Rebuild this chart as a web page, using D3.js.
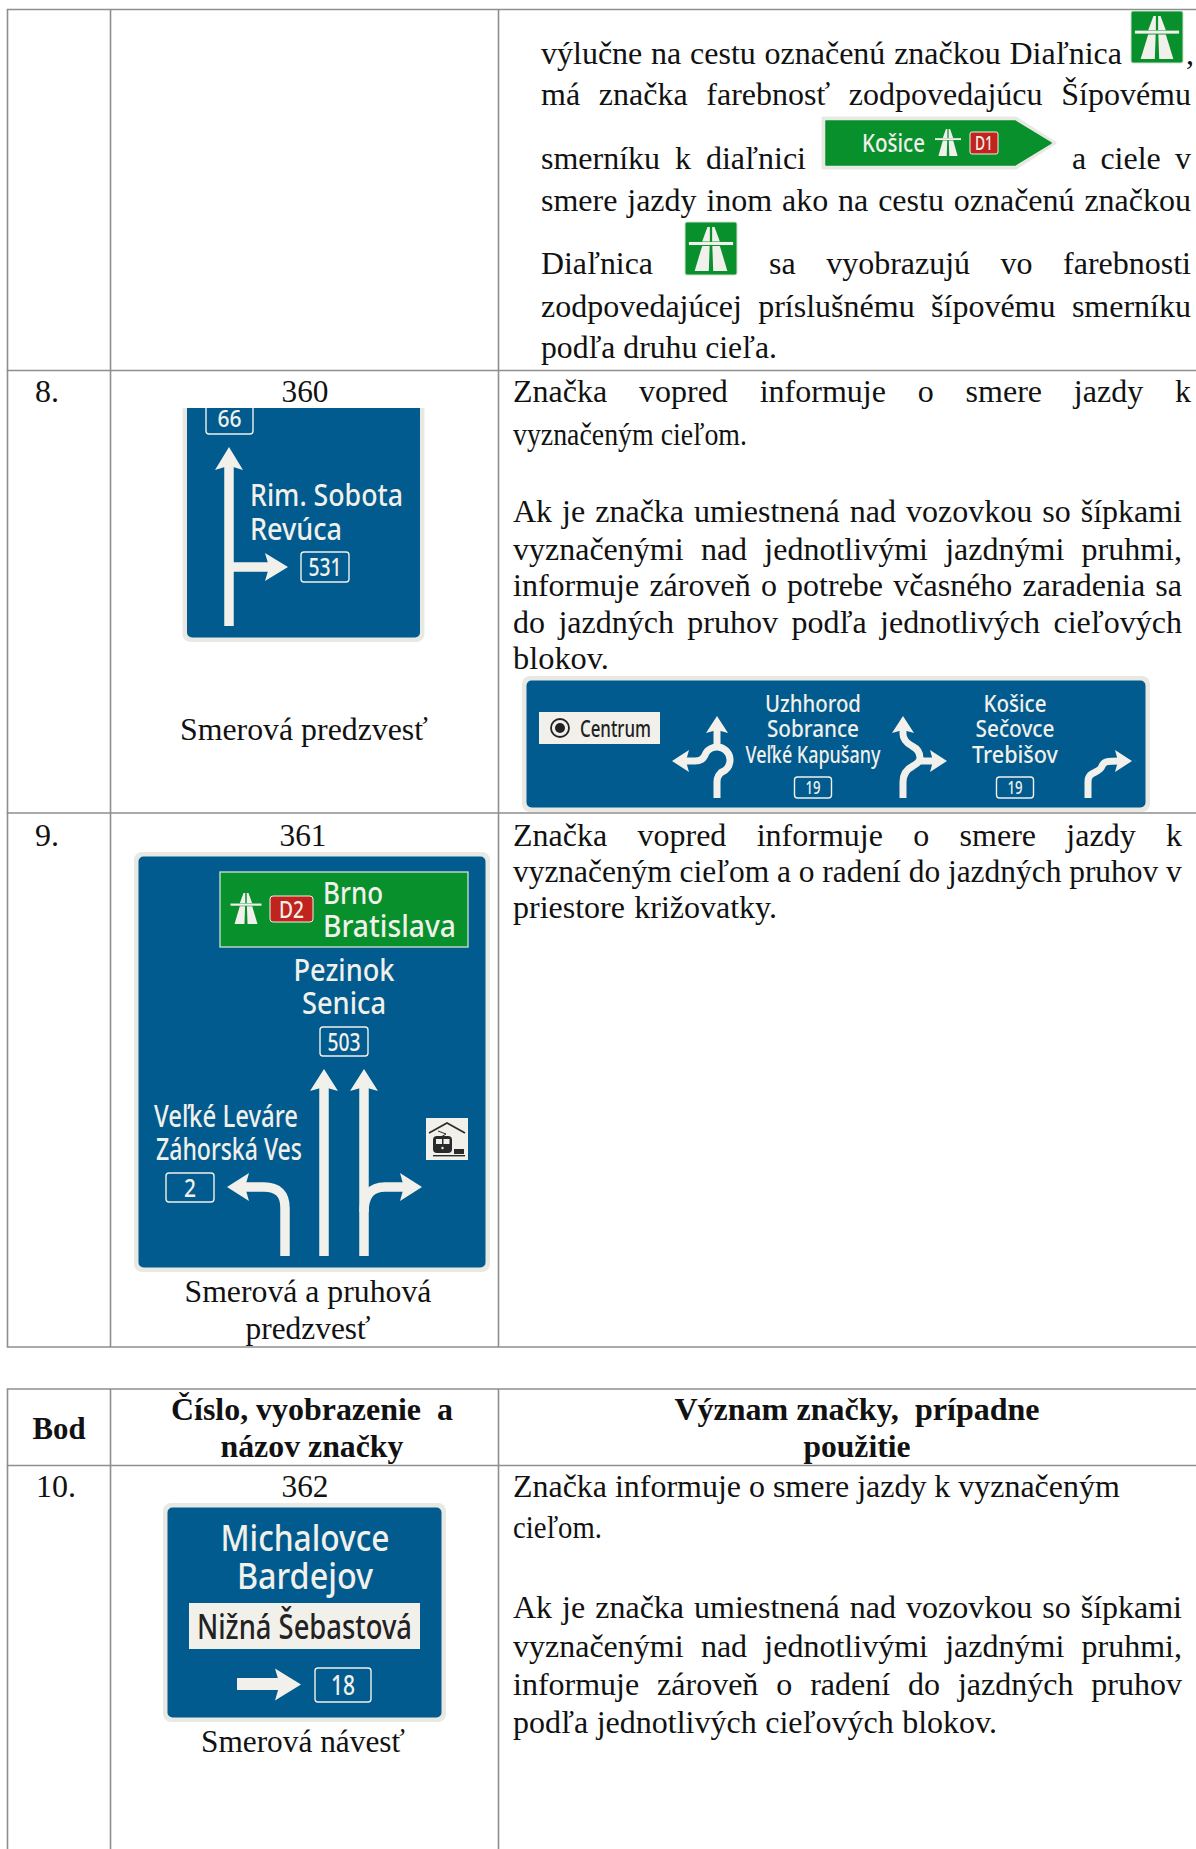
<!DOCTYPE html>
<html>
<head>
<meta charset="utf-8">
<script src="https://cdn.jsdelivr.net/npm/d3@7"></script>
<style>
html, body { margin: 0; padding: 0; background: #fff; }
svg { display: block; }
</style>
</head>
<body>
<div id="page"></div>
<script>
// text of the table
var pointLabels = ["8.", "9.", "Bod", "10."];
var signNumbers = ["360", "361", "362"];
var signNames = ["Smerová predzvesť", "Smerová a pruhová", "predzvesť", "Smerová návesť"];
var headerLabels = ["Číslo, vyobrazenie  a", "názov značky", "Význam značky,  prípadne", "použitie"];
var topLines = ["výlučne na cestu označenú značkou Diaľnica", ",",
    "má značka farebnosť zodpovedajúcu Šípovému", "smerníku k diaľnici", "a ciele v",
    "smere jazdy inom ako na cestu označenú značkou", "Diaľnica", "sa vyobrazujú vo farebnosti",
    "zodpovedajúcej príslušnému šípovému smerníku", "podľa druhu cieľa."];
var row8Lines = ["Značka vopred informuje o smere jazdy k", "vyznačeným cieľom.",
    "Ak je značka umiestnená nad vozovkou so šípkami", "vyznačenými nad jednotlivými jazdnými pruhmi,",
    "informuje zároveň o potrebe včasného zaradenia sa", "do jazdných pruhov podľa jednotlivých cieľových", "blokov."];
var row9Lines = ["Značka vopred informuje o smere jazdy k",
    "vyznačeným cieľom a o radení do jazdných pruhov v", "priestore križovatky."];
var row10Lines = ["Značka informuje o smere jazdy k vyznačeným", "cieľom.",
    "Ak je značka umiestnená nad vozovkou so šípkami", "vyznačenými nad jednotlivými jazdnými pruhmi,",
    "informuje zároveň o radení do jazdných pruhov", "podľa jednotlivých cieľových blokov."];

// rule positions of the two tables
var columnX = [7.5, 110.5, 498.5];
var table1Y = [9.5, 370.5, 813, 1347];
var table2Y = [1389, 1465.5, 1849];

var blue = "#015b8e", green = "#07902c", red = "#c1231d", paper = "#f1f0eb", rim = "#e9e9e4";
var lineColor = "#8e8e8e", ink = "#111";
var W = 1196, H = 1849;

var svg = d3.select("#page").append("svg").attr("width", W).attr("height", H)
    .attr("viewBox", "0 0 " + W + " " + H);

// document rules
var rules = svg.append("g").attr("stroke", lineColor).attr("stroke-width", 1.6);
[table1Y, table2Y].forEach(function(ys) {
    rules.selectAll(null).data(ys).join("line")
        .attr("x1", columnX[0] - 0.8).attr("x2", W).attr("y1", d => d).attr("y2", d => d)
        .filter((d, i) => i == 2 && ys === table2Y).remove();
    rules.selectAll(null).data(columnX).join("line")
        .attr("x1", d => d).attr("x2", d => d).attr("y1", ys[0]).attr("y2", ys[ys.length - 1]);
});

// serif document text, squeezed to the target width or spread by its word gaps
function docText(str, x, y, x2, opts) {
    opts = opts || {};
    var t = svg.append("text").attr("font-family", "'Liberation Serif'").attr("font-size", opts.size || 32)
        .attr("font-weight", opts.bold ? 700 : 400).attr("fill", ink)
        .attr("y", y).style("white-space", "pre").text(str);
    var len = t.node().getComputedTextLength();
    var spaces = (str.match(/ /g) || []).length;
    var sx = 1;
    if (x2 != null) {
        sx = (x2 - x) / len;
        if (spaces > 0 && sx > 1) {
            t.attr("word-spacing", (x2 - x - len) / spaces);
            sx = 1;
        }
    }
    t.attr("transform", "translate(" + x + ",0) scale(" + sx + ",1)");
    return t;
}
function centered(str, cx, y, width, opts) {
    return docText(str, cx - width / 2, y, cx + width / 2, opts);
}

// left column and captions
docText(pointLabels[0], 35, 402);
docText(pointLabels[1], 35, 846);
docText(pointLabels[3], 36, 1497);
centered(signNumbers[0], 305, 402, 47);
centered(signNumbers[1], 303, 846, 47);
centered(signNumbers[2], 305, 1497, 47);
centered(signNames[0], 304, 740, 248);
centered(signNames[1], 308, 1302, 247);
centered(signNames[2], 308, 1339, 125);
centered(signNames[3], 303, 1752, 204);
centered(pointLabels[2], 59, 1439, 53, {bold: true});
centered(headerLabels[0], 312, 1420, 282, {bold: true});
centered(headerLabels[1], 312, 1457, 183, {bold: true});
centered(headerLabels[2], 857, 1420, 365, {bold: true});
centered(headerLabels[3], 857, 1457, 107, {bold: true});

// right column text: baseline, left and right edge of every line
var topY = [63.5, 63.5, 105, 168.5, 168.5, 211, 274, 274, 317, 358];
var topX1 = [541, 1186, 541, 541, 1072, 541, 541, 769, 541, 541];
var topX2 = [1122, null, 1191, 806, 1191, 1191, 653, 1191, 1191, 777];
topLines.forEach((s, i) => docText(s, topX1[i], topY[i], topX2[i]));

var row8Y = [402, 445, 522, 560, 596, 633, 669];
var row8X2 = [1191, 747, 1182, 1182, 1182, 1182, 609];
row8Lines.forEach((s, i) => docText(s, 513, row8Y[i], row8X2[i]));

var row9Y = [846, 882, 918];
var row9X2 = [1182, 1182, 777];
row9Lines.forEach((s, i) => docText(s, 513, row9Y[i], row9X2[i]));

var row10Y = [1497, 1538, 1618, 1657, 1695, 1733];
var row10X2 = [1120, 602, 1182, 1182, 1182, 997];
row10Lines.forEach((s, i) => docText(s, 513, row10Y[i], row10X2[i]));

// sign helpers
function signPlate(g, x0, y0, x1, y1) {
    g.append("rect").attr("x", x0).attr("y", y0).attr("width", x1 - x0).attr("height", y1 - y0)
        .attr("rx", 8).attr("fill", rim);
    g.append("rect").attr("x", x0 + 4.5).attr("y", y0 + 4.5).attr("width", x1 - x0 - 9).attr("height", y1 - y0 - 9)
        .attr("rx", 5).attr("fill", blue);
}
function signText(g, str, x, y, width, size, fill, anchor) {
    var x0 = anchor == "middle" ? x - width / 2 : x;
    return g.append("text").attr("x", x0).attr("y", y + size * 0.04).attr("font-family", "'Noto Sans'")
        .attr("font-size", size).attr("font-weight", 500).attr("fill", fill || paper)
        .attr("textLength", width).attr("lengthAdjust", "spacingAndGlyphs").text(str);
}
function roadBox(g, str, x0, y0, x1, y1, size, w) {
    g.append("rect").attr("x", x0).attr("y", y0).attr("width", x1 - x0).attr("height", y1 - y0)
        .attr("rx", 3).attr("fill", "none").attr("stroke", paper).attr("stroke-width", 1.4);
    var cx = (x0 + x1) / 2;
    signText(g, str, cx, (y0 + y1) / 2 + size * 0.32, w, size, paper, "middle");
}
function stroke(g, d, w) {
    g.append("path").attr("d", d.toString()).attr("fill", "none").attr("stroke", paper)
        .attr("stroke-width", w || 9.5);
}
// arrow head, dir is the heading in degrees (0 = up)
function head(g, x, y, dir, len, half) {
    var pts = [[0, 0], [half, len], [0, len - 0.18 * len], [-half, len]];
    g.append("path").attr("d", d3.line()(pts) + "Z").attr("fill", paper)
        .attr("transform", "translate(" + x + "," + y + ") rotate(" + dir + ")");
}
function motorway(g, cx, y0, h, w, fill) {
    var lanes = [
        [[.08, 0], [.025, 0], [.025, .33], [.2, .33]],
        [[.2, .43], [.03, .43], [.05, 1], [.37, 1]]
    ];
    var sy = d3.scaleLinear().domain([0, 1]).range([y0, y0 + h]);
    var g2 = g.append("g").attr("fill", fill);
    lanes.forEach(function(l) {
        [1, -1].forEach(function(side) {
            var pts = l.map(p => [cx + side * p[0] * w, sy(p[1])]);
            g2.append("path").attr("d", d3.line()(pts) + "Z");
        });
    });
    g2.append("rect").attr("x", cx - w / 2).attr("y", sy(.34)).attr("width", w).attr("height", h * .07);
}
function greenIcon(x0, y0, x1, y1) {
    var g = svg.append("g");
    g.append("rect").attr("x", x0).attr("y", y0).attr("width", x1 - x0).attr("height", y1 - y0)
        .attr("rx", 2).attr("fill", green).attr("stroke", "#cfe0cf").attr("stroke-width", 1);
    motorway(g, (x0 + x1) / 2, y0 + 5, y1 - y0 - 9, (x1 - x0) * 0.85, paper);
}

// motorway icons inside the top text
greenIcon(1131, 11, 1183, 63);
greenIcon(685, 222, 737, 275);

// Košice arrow sign
var kos = svg.append("g");
var kosOuter = [[823, 118], [1016, 118], [1055, 143], [1016, 168], [823, 168]];
kos.append("path").attr("d", d3.line()(kosOuter) + "Z").attr("fill", rim).attr("stroke", rim)
    .attr("stroke-width", 3).attr("stroke-linejoin", "round");
var kosInner = [[826, 121], [1015, 121], [1051, 143], [1015, 165], [826, 165]];
kos.append("path").attr("d", d3.line()(kosInner) + "Z").attr("fill", green).attr("stroke", green)
    .attr("stroke-width", 1.5).attr("stroke-linejoin", "round");
signText(kos, "Košice", 862, 151, 63, 25);
motorway(kos, 948, 129, 27, 26, paper);
kos.append("rect").attr("x", 970).attr("y", 132).attr("width", 28).attr("height", 22).attr("rx", 2)
    .attr("fill", red).attr("stroke", paper).attr("stroke-width", 1);
signText(kos, "D1", 984, 149, 18, 19, paper, "middle");

// sign 360, cut off at the top by the picture frame
var s360 = svg.append("g");
s360.append("clipPath").attr("id", "clip360").append("rect").attr("x", 170).attr("y", 408).attr("width", 270).attr("height", 240);
var s360in = s360.append("g").attr("clip-path", "url(#clip360)");
signPlate(s360in, 182.5, 380, 424.5, 642);
roadBox(s360in, "66", 206, 396, 253, 434, 23, 24);
s360in.selectAll("text").attr("y", 427);
var p = d3.path(); p.moveTo(229, 626); p.lineTo(229, 465); stroke(s360, p);
p = d3.path(); p.moveTo(229, 567); p.lineTo(272, 567); stroke(s360, p);
head(s360, 229, 447, 0, 23, 14);
head(s360, 288, 567, 90, 23, 14);
signText(s360, "Rim. Sobota", 250, 505, 153, 31);
signText(s360, "Revúca", 250, 539, 92, 31);
roadBox(s360, "531", 301, 552, 349, 582, 25, 33);

// overhead sign of row 8
var s8 = svg.append("g");
signPlate(s8, 522, 676, 1150, 812);
s8.append("rect").attr("x", 539).attr("y", 712).attr("width", 121).attr("height", 32).attr("fill", paper);
s8.append("circle").attr("cx", 560).attr("cy", 728).attr("r", 9).attr("fill", "none").attr("stroke", "#222").attr("stroke-width", 1.8);
s8.append("circle").attr("cx", 560).attr("cy", 728).attr("r", 5).attr("fill", "#222");
signText(s8, "Centrum", 580, 736, 71, 24, "#222");
var s8Lines = [["Uzhhorod", "Sobrance", "Veľké Kapušany"], ["Košice", "Sečovce", "Trebišov"]];
var s8Y = [711, 736, 762], s8Cx = [813, 1015], s8W = [[96, 92, 135], [63, 79, 86]];
s8Lines.forEach(function(l, j) {
    l.forEach((s, i) => signText(s8, s, s8Cx[j], s8Y[i], s8W[j][i], 24, paper, "middle"));
    roadBox(s8, "19", s8Cx[j] - 18.5, 777, s8Cx[j] + 18.5, 798, 18, 15);
});
// roundabout arrow
p = d3.path(); p.moveTo(717, 798); p.lineTo(717, 782); p.quadraticCurveTo(717, 775, 722.5, 771.8);
p.arc(717, 760, 13, 65 * Math.PI / 180, -160 * Math.PI / 180, true);
p.quadraticCurveTo(702, 761, 695, 761); p.lineTo(685, 761);
stroke(s8, p, 7);
p = d3.path(); p.moveTo(717, 747); p.lineTo(717, 728); stroke(s8, p, 7);
head(s8, 717, 716, 0, 17, 11);
head(s8, 672, 761, -90, 17, 11);
// split arrow
p = d3.path(); p.moveTo(903, 798); p.lineTo(903, 782); p.quadraticCurveTo(903, 771, 913, 766);
p.quadraticCurveTo(920, 762, 920, 758); p.quadraticCurveTo(920, 750, 912, 746);
p.quadraticCurveTo(903, 741, 903, 734); p.lineTo(903, 728);
stroke(s8, p, 7);
p = d3.path(); p.moveTo(917, 761); p.lineTo(933, 761); stroke(s8, p, 7);
head(s8, 903, 716, 0, 17, 11);
head(s8, 947, 761, 90, 17, 11);
// right arrow
p = d3.path(); p.moveTo(1088, 798); p.lineTo(1088, 782);
p.bezierCurveTo(1088, 770, 1100, 774, 1102, 766); p.bezierCurveTo(1104, 761, 1108, 761, 1120, 761);
stroke(s8, p, 7);
head(s8, 1132, 761, 90, 17, 11);

// sign 361
var s361 = svg.append("g");
signPlate(s361, 134, 852, 490, 1272);
s361.append("rect").attr("x", 220).attr("y", 872).attr("width", 248).attr("height", 75)
    .attr("fill", green).attr("stroke", "#cfe3d0").attr("stroke-width", 1.3);
motorway(s361, 246, 893, 31, 31, paper);
s361.append("rect").attr("x", 270).attr("y", 896).attr("width", 43).attr("height", 26).attr("rx", 3)
    .attr("fill", red).attr("stroke", paper).attr("stroke-width", 1);
signText(s361, "D2", 291.5, 917, 25, 24, paper, "middle");
signText(s361, "Brno", 323, 903, 60, 31);
signText(s361, "Bratislava", 323, 936, 133, 31);
signText(s361, "Pezinok", 344, 980, 101, 31, paper, "middle");
signText(s361, "Senica", 344, 1013, 84, 31, paper, "middle");
roadBox(s361, "503", 320, 1027, 368, 1056, 25, 33);
signText(s361, "Veľké Leváre", 154, 1126, 144, 30);
signText(s361, "Záhorská Ves", 156, 1159, 146, 30);
roadBox(s361, "2", 166, 1173, 214, 1202, 25, 12);
[324, 364].forEach(function(x) {
    p = d3.path(); p.moveTo(x, 1256); p.lineTo(x, 1085); stroke(s361, p);
    head(s361, x, 1069, 0, 22, 14);
});
p = d3.path(); p.moveTo(285, 1256); p.lineTo(285, 1208); p.quadraticCurveTo(285, 1187, 264, 1187); p.lineTo(244, 1187);
stroke(s361, p);
head(s361, 227, 1187, -90, 22, 14);
p = d3.path(); p.moveTo(364, 1212); p.quadraticCurveTo(364, 1187, 385, 1187); p.lineTo(406, 1187);
stroke(s361, p);
head(s361, 422, 1187, 90, 22, 14);
// railway loading pictogram
s361.append("rect").attr("x", 426).attr("y", 1118).attr("width", 42).attr("height", 42).attr("fill", paper);
var picto = s361.append("g").attr("fill", "#2a2a2a");
var roof = [[429, 1133], [447, 1123], [465, 1133]];
picto.append("path").attr("d", d3.line()(roof)).attr("fill", "none").attr("stroke", "#2a2a2a").attr("stroke-width", 1.6);
var panto = [[438, 1131], [446, 1134], [441, 1137]];
picto.append("path").attr("d", d3.line()(panto)).attr("fill", "none").attr("stroke", "#2a2a2a").attr("stroke-width", 1);
picto.append("rect").attr("x", 433).attr("y", 1136).attr("width", 19).attr("height", 17).attr("rx", 4);
picto.append("rect").attr("x", 436).attr("y", 1139).attr("width", 6).attr("height", 5).attr("fill", paper);
picto.append("rect").attr("x", 443.5).attr("y", 1139).attr("width", 6).attr("height", 5).attr("fill", paper);
picto.append("circle").attr("cx", 442.5).attr("cy", 1148).attr("r", 1.2).attr("fill", paper);
picto.append("rect").attr("x", 454).attr("y", 1149).attr("width", 10).attr("height", 5);
picto.append("rect").attr("x", 433).attr("y", 1155).attr("width", 32).attr("height", 1.4);

// sign 362
var s362 = svg.append("g");
signPlate(s362, 163, 1503, 446, 1722);
signText(s362, "Michalovce", 305, 1550, 169, 36, paper, "middle");
signText(s362, "Bardejov", 305, 1588, 136, 36, paper, "middle");
s362.append("rect").attr("x", 189).attr("y", 1603).attr("width", 231).attr("height", 46).attr("fill", paper);
signText(s362, "Nižná Šebastová", 197, 1638, 215, 34, "#222");
p = d3.path(); p.moveTo(237, 1684); p.lineTo(282, 1684); stroke(s362, p, 12);
head(s362, 301, 1684.5, 90, 26, 16);
roadBox(s362, "18", 315, 1668, 371, 1702, 27, 24);
</script>
</body>
</html>
